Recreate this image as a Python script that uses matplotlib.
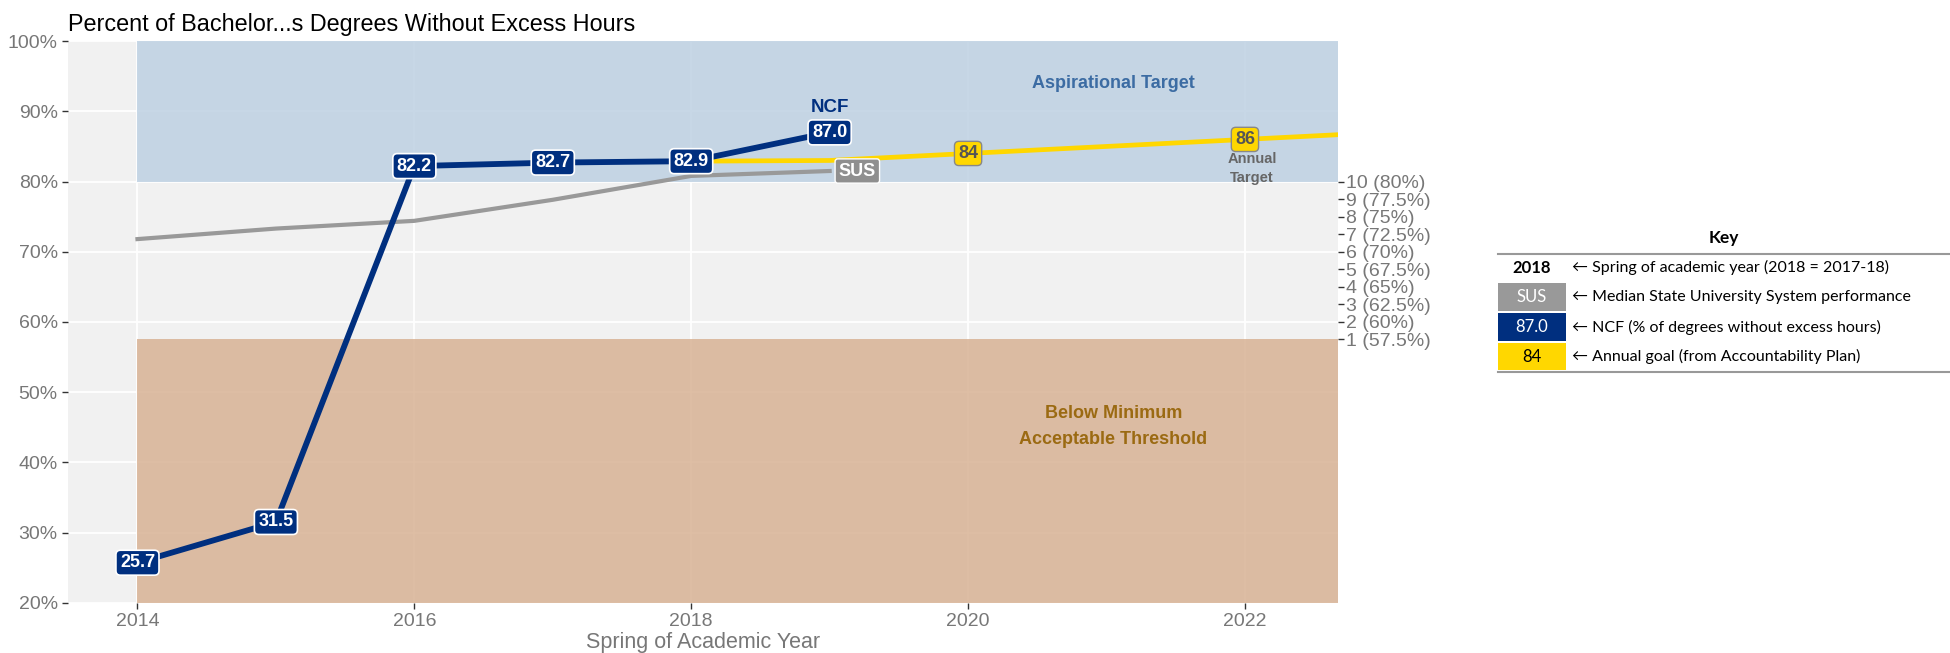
import matplotlib
matplotlib.use("Agg")
import matplotlib.pyplot as plt
from matplotlib.patches import Rectangle
from matplotlib.lines import Line2D

# ---------------- data ----------------
years = [2014, 2015, 2016, 2017, 2018, 2019]
ncf_values = [25.7, 31.5, 82.2, 82.7, 82.9, 87.0]
sus_values = [71.8, 73.3, 74.4, 77.4, 80.8, 81.5]
goal_years = [2018, 2019, 2020, 2021, 2022, 2023]
goal_values = [82.9, 83.0, 84.0, 85.0, 86.0, 87.0]
goal_label_years = [2020, 2022]
goal_label_values = [84, 86]
left_ticks = [20, 30, 40, 50, 60, 70, 80, 90, 100]
x_ticks = [2014, 2016, 2018, 2020, 2022]
right_ticks = [57.5, 60, 62.5, 65, 67.5, 70, 72.5, 75, 77.5, 80]
right_points = [1, 2, 3, 4, 5, 6, 7, 8, 9, 10]
aspirational_range = (80, 100)
minimum_range = (20, 57.5)
zone_start_year = 2014
key_symbols = ["2018", "SUS", "87.0", "84"]
key_texts = ["\u2190 Spring of academic year (2018 = 2017-18)",
             "\u2190 Median State University System performance",
             "\u2190 NCF (% of degrees without excess hours)",
             "\u2190 Annual goal (from Accountability Plan)"]

# ---------------- style ----------------
NAVY = "#002F7F"
GRAY_LINE = "#999999"
YELLOW = "#FFD700"
PANEL = "#F1F1F1"
TICKC = "#777777"
plt.rcParams["font.family"] = ["Liberation Sans", "DejaVu Sans"]

fig = plt.figure(figsize=(19.5, 6.53), dpi=100)
ax = fig.add_axes([0.035, 0.077, 0.651, 0.86])
ax.set_facecolor(PANEL)
xmin, xmax = 2013.5, 2022.67
ax.set_xlim(xmin, xmax)
ax.set_ylim(20, 100)

ax.grid(True, color="white", lw=1.3)
ax.set_axisbelow(True)
for s in ax.spines.values():
    s.set_visible(False)

# zones
ax.fill_between([zone_start_year, xmax], aspirational_range[0], aspirational_range[1],
                color="#BACEE1", alpha=0.8, lw=0, zorder=1)
ax.fill_between([zone_start_year, xmax], minimum_range[0], minimum_range[1],
                color="#D6AE8E", alpha=0.8, lw=0, zorder=1)

# lines
ax.plot(goal_years, goal_values, color=YELLOW, lw=3.4, zorder=3, solid_capstyle="butt")
ax.plot(years, sus_values, color=GRAY_LINE, lw=3.0, zorder=3)
ax.plot(years, ncf_values, color=NAVY, lw=4.2, zorder=4)

# labels on NCF
for x, v in zip(years, ncf_values):
    ax.text(x, v, f"{v:.1f}", ha="center", va="center", color="white",
            fontsize=13, fontweight="bold", zorder=6,
            bbox=dict(boxstyle="round,pad=0.22,rounding_size=0.25", fc=NAVY, ec="white", lw=1.2))
ax.text(years[-1], ncf_values[-1] + 3.6, "NCF", ha="center", va="center", color=NAVY,
        fontsize=13.5, fontweight="bold", zorder=6)

# SUS label
ax.text(years[-1] + 0.2, sus_values[-1], "SUS", ha="center", va="center", color="white",
        fontsize=13, fontweight="bold", zorder=6,
        bbox=dict(boxstyle="round,pad=0.2,rounding_size=0.15", fc="#8F8F8F", ec="white", lw=1.0))

# goal labels
for x, v in zip(goal_label_years, goal_label_values):
    ax.text(x, v, f"{v}", ha="center", va="center", color="#555555",
            fontsize=13, fontweight="bold", zorder=6,
            bbox=dict(boxstyle="round,pad=0.2,rounding_size=0.25", fc=YELLOW, ec="#888888", lw=1.0))
ax.text(goal_label_years[-1] + 0.05, 81.9, "Annual\nTarget", ha="center", va="center",
        color="#666666", fontsize=10.5, fontweight="bold", linespacing=1.45, zorder=6)

# zone labels
ax.text(2021.05, 94, "Aspirational Target", ha="center", va="center", color="#3C6CA3",
        fontsize=13, fontweight="bold", zorder=6)
ax.text(2021.05, 45.1, "Below Minimum\nAcceptable Threshold", ha="center", va="center",
        color="#9B6A12", fontsize=13, fontweight="bold", linespacing=1.7, zorder=6)

# axes ticks
ax.set_yticks(left_ticks)
ax.set_yticklabels([f"{t}%" for t in left_ticks])
ax.set_xticks(x_ticks)
ax.set_xticklabels([str(t) for t in x_ticks])
ax.tick_params(axis="both", colors="#333333", labelcolor=TICKC, labelsize=14, length=4, width=1)
ax.set_xlabel("Spring of Academic Year", color=TICKC, fontsize=15.5, labelpad=1)
ax.set_title("Percent of Bachelor...s Degrees Without Excess Hours", loc="left",
             fontsize=16.8, color="black", pad=7, x=0.0)

ax2 = ax.twinx()
ax2.set_ylim(20, 100)
for s in ax2.spines.values():
    s.set_visible(False)
ax2.set_yticks(right_ticks)
ax2.set_yticklabels([f"{p} ({t:g}%)" for p, t in zip(right_points, right_ticks)])
ax2.tick_params(axis="y", colors="#333333", labelcolor=TICKC, labelsize=14, length=4, width=1, pad=2)

# ---------------- key ----------------
kx0, kx1 = 0.768, 1.0
fig.text((kx0 + kx1) / 2, 0.636, "Key", ha="center", va="center", fontsize=12.5,
         fontweight="bold", family=["Lato", "DejaVu Sans"])
fig.add_artist(Line2D([kx0, kx1], [0.611, 0.611], color="#999999", lw=1.5))
fig.add_artist(Line2D([kx0, kx1], [0.431, 0.431], color="#999999", lw=1.5))
row_y = [0.590, 0.545, 0.499, 0.454]
box_fc = ["white", "#999999", NAVY, YELLOW]
box_tc = ["black", "white", "white", "black"]
box_w, box_h = 0.035, 0.042
for y, sym, txt, fc, tc in zip(row_y, key_symbols, key_texts, box_fc, box_tc):
    fig.add_artist(Rectangle((kx0, y - box_h / 2), box_w, box_h, transform=fig.transFigure,
                             fc=fc, ec="none"))
    fig.text(kx0 + box_w / 2, y, sym, ha="center", va="center", color=tc, fontsize=12,
             fontweight="bold" if sym == "2018" else "normal", family=["Lato", "DejaVu Sans"])
    fig.text(kx0 + box_w + 0.003, y, txt, ha="left", va="center", color="black",
             fontsize=11.5, family=["Lato", "DejaVu Sans"])

fig.savefig("out.png", dpi=100, facecolor="white")
